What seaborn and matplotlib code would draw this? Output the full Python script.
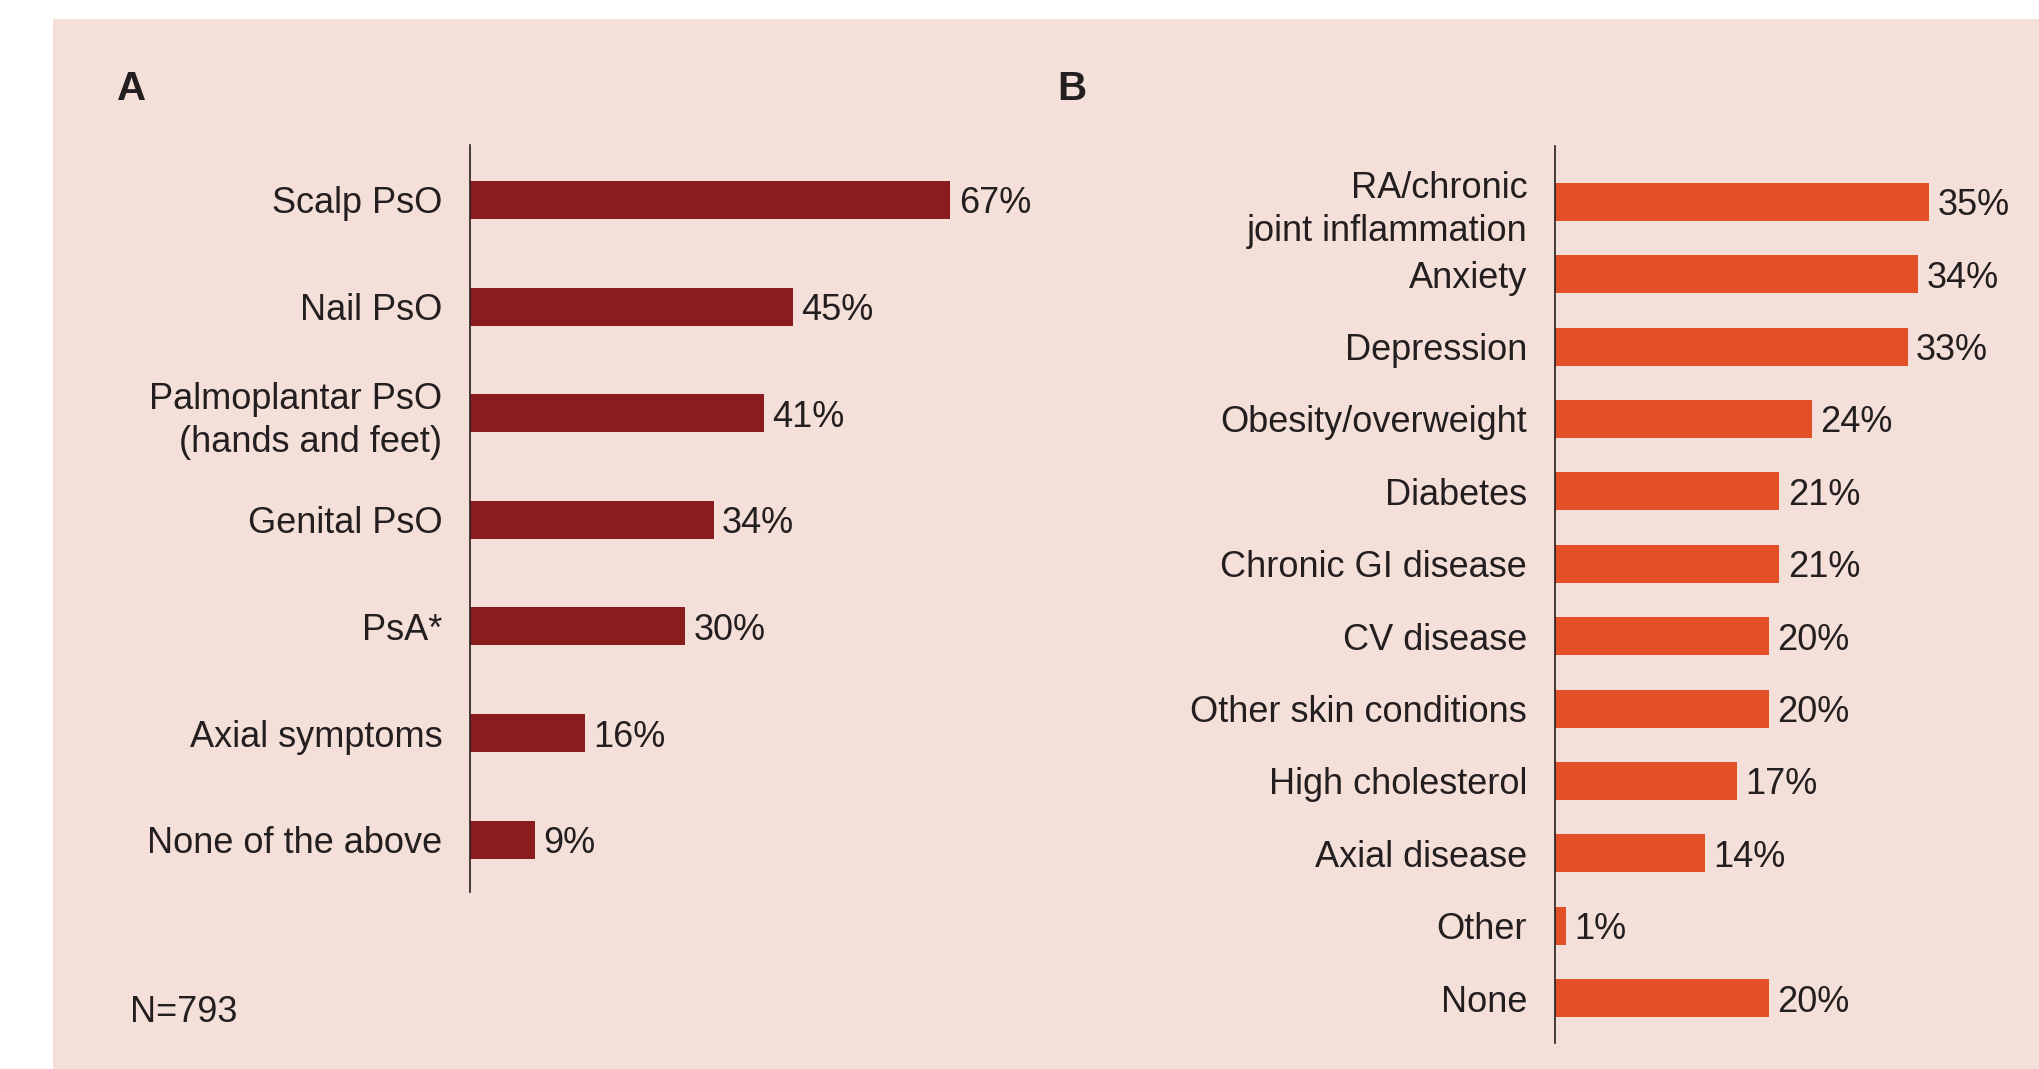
import numpy as np
import pandas as pd
import matplotlib
matplotlib.use('Agg')
import matplotlib.pyplot as plt
from matplotlib.patches import Rectangle
import seaborn as sns

# panel A data
cats_a = ['Scalp PsO', 'Nail PsO', 'Palmoplantar PsO\n(hands and feet)', 'Genital PsO',
          'PsA*', 'Axial symptoms', 'None of the above']
vals_a = [67, 45, 41, 34, 30, 16, 9]

# panel B data
cats_b = ['RA/chronic\njoint inflammation', 'Anxiety', 'Depression', 'Obesity/overweight',
          'Diabetes', 'Chronic GI disease', 'CV disease', 'Other skin conditions',
          'High cholesterol', 'Axial disease', 'Other', 'None']
vals_b = [35, 34, 33, 24, 21, 21, 20, 20, 17, 14, 1, 20]

n_label = 'N=793'

BG = '#F4DFD9'
TXT = '#231F20'
RED_A = '#8B1C1E'
RED_B = '#E34F26'

sns.set_theme(style='white')
plt.rcParams['font.family'] = ['Liberation Sans', 'DejaVu Sans']
plt.rcParams['text.color'] = TXT

W, H = 2039, 1069
fig = plt.figure(figsize=(W / 100, H / 100), dpi=100)
fig.patch.set_facecolor('white')
fig.patches.append(Rectangle((53 / W, 0), 1 - 53 / W, (H - 19) / H,
                             transform=fig.transFigure, facecolor=BG, edgecolor='none', zorder=-10))


def px_axes(left, top, bottom, width):
    return fig.add_axes([left / W, (H - bottom) / H, width / W, (bottom - top) / H])


def draw(ax, cats, vals, color, bar_h, ylim, xlim):
    df = pd.DataFrame({'cat': cats, 'val': vals})
    sns.barplot(data=df, x='val', y='cat', orient='h', color=color, saturation=1,
                width=bar_h, linewidth=0, edgecolor='none', ax=ax)
    ax.set_facecolor('none')
    ax.set_xlim(*xlim)
    ax.set_ylim(*ylim)
    ax.set_xlabel('')
    ax.set_ylabel('')
    ax.set_xticks([])
    for s in ['top', 'right', 'bottom']:
        ax.spines[s].set_visible(False)
    ax.spines['left'].set_color(TXT)
    ax.spines['left'].set_linewidth(1.2)
    ax.tick_params(axis='y', length=0, pad=20, labelsize=26, labelcolor=TXT)
    for t in ax.get_yticklabels():
        t.set_linespacing(1.3)
    texts = ax.bar_label(ax.containers[0], labels=[f'{v}%' for v in vals], padding=6,
                         fontsize=26, color=TXT)
    for t in texts:
        t.set_va('center_baseline')


ax_a = px_axes(470, 145, 892, 717)
draw(ax_a, cats_a, vals_a, RED_A, 0.356, (6.49, -0.515), (0, 100))

ax_b = px_axes(1555, 146, 1043, 481)
draw(ax_b, cats_b, vals_b, RED_B, 0.525, (11.62, -0.77), (0, 45))

fig.text(117 / W, 1 - 89 / H, 'A', fontsize=29, fontweight='bold', va='center', ha='left', color=TXT)
fig.text(1057 / W, 1 - 89 / H, 'B', fontsize=29, fontweight='bold', va='center', ha='left', color=TXT)
fig.text(130 / W, 1 - 1013 / H, n_label, fontsize=26, va='center', ha='left', color=TXT)

fig.savefig('out.png', dpi=100, facecolor=fig.get_facecolor())
